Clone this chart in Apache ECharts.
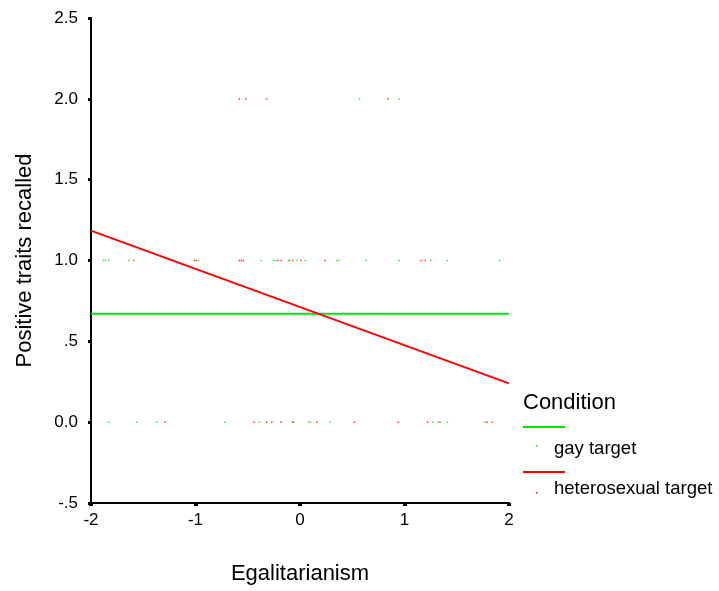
<!DOCTYPE html>
<html>
<head>
<meta charset="utf-8">
<script src="https://cdn.jsdelivr.net/npm/echarts@6/dist/echarts.min.js"></script>
<style>html,body{margin:0;padding:0;background:#fff}#chart{width:719px;height:591px}</style>
</head>
<body>
<div id="chart"></div>
<script>
// ---- data ----
var xTickValues = [-2, -1, 0, 1, 2];
var xTickLabels = ['-2', '-1', '0', '1', '2'];
var yTickValues = [-0.5, 0, 0.5, 1, 1.5, 2, 2.5];
var yTickLabels = ['-.5', '0.0', '.5', '1.0', '1.5', '2.0', '2.5'];

var conditions = ['gay target', 'heterosexual target'];

// Egalitarianism values of participants, grouped by positive traits recalled
var gayRecalled0 = [-1.83, -1.56, -1.37, -0.72, -0.39, -0.06, 0.08, 0.10, 0.29, 1.27, 1.32, 1.41, 1.77];
var gayRecalled1 = [-1.88, -1.86, -1.83, -1.64, -0.97, -0.37, -0.25, -0.23, -0.11, -0.10, -0.03, 0.05, 0.35, 0.37, 0.63, 0.95, 1.25, 1.41, 1.91];
var gayRecalled2 = [0.57, 0.95];

var heteroRecalled0 = [-1.29, -0.44, -0.32, -0.27, -0.18, -0.07, 0.16, 0.52, 0.94, 1.22, 1.34, 1.79, 1.84];
var heteroRecalled1 = [-1.59, -1.22, -1.01, -0.99, -0.58, -0.56, -0.54, -0.21, -0.18, -0.07, 0.01, 0.24, 1.16, 1.20];
var heteroRecalled2 = [-0.58, -0.52, -0.32, 0.84];

// fit lines (endpoints at Egalitarianism = -2 and 2)
var fitX = [-2, 2];
var gayFitY = [0.67, 0.67];
var heteroFitY = [1.185, 0.24];

// ---- build ----
function pts(xs, y) { return xs.map(function (x) { return [x, y]; }); }
function line(xs, ys) { return xs.map(function (x, i) { return [x, ys[i]]; }); }

var GREEN = '#00e800';
var RED = '#ff0000';
var FONT = 'Liberation Sans, Arial, sans-serif';

var gayPoints = [].concat(pts(gayRecalled0, 0), pts(gayRecalled1, 1), pts(gayRecalled2, 2));
var heteroPoints = [].concat(pts(heteroRecalled0, 0), pts(heteroRecalled1, 1), pts(heteroRecalled2, 2));

var chart = echarts.init(document.getElementById('chart'));
chart.setOption({
  animation: false,
  backgroundColor: '#ffffff',
  textStyle: { fontFamily: FONT },
  grid: { left: 91, right: 210, top: 18, bottom: 88, containLabel: false },
  xAxis: {
    type: 'value', min: -2, max: 2, interval: 1,
    name: 'Egalitarianism', nameLocation: 'middle', nameGap: 60,
    nameTextStyle: { fontSize: 22, color: '#000', fontFamily: FONT },
    axisLine: { onZero: false, lineStyle: { color: '#000', width: 2 } },
    axisTick: { show: true, length: 3, lineStyle: { color: '#000', width: 4 } },
    axisLabel: {
      fontSize: 17, color: '#000', margin: 9, fontFamily: FONT,
      formatter: function (v) { var i = xTickValues.indexOf(v); return i >= 0 ? xTickLabels[i] : ''; }
    },
    splitLine: { show: false }
  },
  yAxis: {
    type: 'value', min: -0.5, max: 2.5, interval: 0.5,
    name: 'Positive traits recalled', nameLocation: 'middle', nameGap: 55,
    nameTextStyle: { fontSize: 22, color: '#000', fontFamily: FONT },
    axisLine: { onZero: false, lineStyle: { color: '#000', width: 2 } },
    axisTick: { show: true, length: 3, lineStyle: { color: '#000', width: 3 } },
    axisLabel: {
      fontSize: 17, color: '#000', margin: 13, fontFamily: FONT,
      formatter: function (v) {
        for (var i = 0; i < yTickValues.length; i++) { if (Math.abs(yTickValues[i] - v) < 1e-9) return yTickLabels[i]; }
        return '';
      }
    },
    splitLine: { show: false }
  },
  series: [
    { name: conditions[0] + ' fit', type: 'line', data: line(fitX, gayFitY), symbol: 'none',
      lineStyle: { color: GREEN, width: 2 }, z: 3 },
    { name: conditions[1] + ' fit', type: 'line', data: line(fitX, heteroFitY), symbol: 'none',
      lineStyle: { color: RED, width: 2 }, z: 3 },
    { name: conditions[0], type: 'scatter', data: gayPoints, symbol: 'rect', symbolSize: 1.5,
      itemStyle: { color: GREEN }, z: 4 },
    { name: conditions[1], type: 'scatter', data: heteroPoints, symbol: 'rect', symbolSize: 1.5,
      itemStyle: { color: RED }, z: 4 }
  ],
  graphic: [
    { type: 'text', left: 523, top: 392, style: { text: 'Condition', fontSize: 22, fill: '#000', fontFamily: FONT } },
    { type: 'line', shape: { x1: 523, y1: 427, x2: 565, y2: 427 }, style: { stroke: GREEN, lineWidth: 2 } },
    { type: 'rect', shape: { x: 536, y: 445, width: 1.5, height: 1.5 }, style: { fill: GREEN } },
    { type: 'text', x: 554, y: 449, style: { text: conditions[0], fontSize: 18.5, fill: '#000', fontFamily: FONT, verticalAlign: 'middle' } },
    { type: 'line', shape: { x1: 523, y1: 472, x2: 565, y2: 472 }, style: { stroke: RED, lineWidth: 2 } },
    { type: 'rect', shape: { x: 536, y: 492, width: 1.5, height: 1.5 }, style: { fill: RED } },
    { type: 'text', x: 554, y: 489, style: { text: conditions[1], fontSize: 18.5, fill: '#000', fontFamily: FONT, verticalAlign: 'middle' } }
  ]
});
</script>
</body>
</html>
